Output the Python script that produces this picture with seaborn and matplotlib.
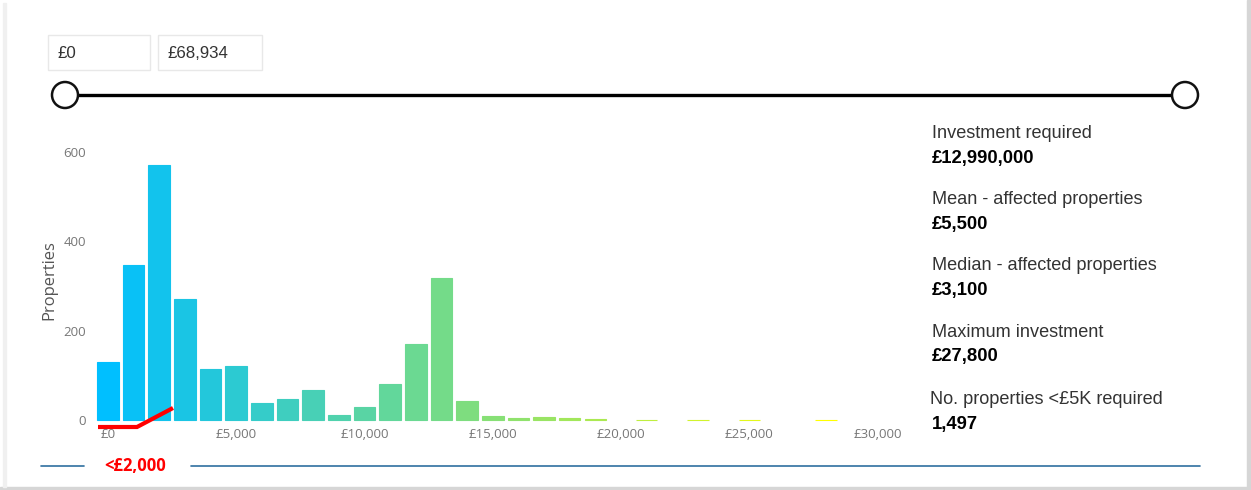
import numpy as np
import pandas as pd
import seaborn as sns
import matplotlib.pyplot as plt
from matplotlib.colors import LinearSegmentedColormap
from matplotlib.lines import Line2D
from matplotlib.patches import Rectangle, Circle
from matplotlib.ticker import FuncFormatter

# Histogram data (bin centres in £, number of properties)
bin_centers = [0, 1000, 2000, 3000, 4000, 5000, 6000, 7000, 8000, 9000,
               10000, 11000, 12000, 13000, 14000, 15000, 16000, 17000, 18000, 19000,
               20000, 21000, 22000, 23000, 24000, 25000, 26000, 27000, 28000]
counts = [129, 346, 570, 270, 114, 120, 38, 48, 67, 11,
          28, 81, 171, 317, 42, 10, 5, 7, 4, 2,
          0, 1, 0, 1, 0, 1, 0, 0, 1]

x_ticks = [0, 5000, 10000, 15000, 20000, 25000, 30000]
y_ticks = [0, 200, 400, 600]

range_low = "£0"
range_high = "£68,934"

kpi_labels = ["Investment required", "Mean - affected properties",
              "Median - affected properties", "Maximum investment",
              "No. properties <£5K required"]
kpi_values = ["£12,990,000", "£5,500", "£3,100", "£27,800", "1,497"]

band_label = "<£2,000"

df = pd.DataFrame({'investment': bin_centers, 'properties': counts})

sns.set_theme(style="white")
plt.rcParams['font.family'] = ['Open Sans', 'DejaVu Sans']

W, H = 1251, 490
fig = plt.figure(figsize=(W / 100, H / 100), dpi=100)
fig.patch.set_facecolor('white')

def fx(px):
    return px / W

def fy(py):
    return 1 - py / H

# card frame / shadow
fig.patches.append(Rectangle((fx(1247), 0), fx(4), 1, transform=fig.transFigure,
                             color='#d6d6d6', zorder=0))
fig.patches.append(Rectangle((0, 0), 1, fy(487), transform=fig.transFigure,
                             color='#d6d6d6', zorder=0))
fig.patches.append(Rectangle((fx(3), fy(487)), fx(3), fy(3) - fy(487),
                             transform=fig.transFigure, color='#f0f0f0', zorder=0))

# histogram axes
ax = fig.add_axes([fx(90), fy(420), fx(905) - fx(90), fy(140) - fy(420)])
ax.set_facecolor('none')

sns.histplot(data=df, x='investment', weights='properties', binwidth=1000,
             binrange=(-500, 28500), shrink=0.84, ax=ax, element='bars')

cmap = LinearSegmentedColormap.from_list(
    'pbi', [(0.0, '#00bfff'), (0.5, '#7ddd7f'), (1.0, '#ffff00')])
for p in ax.patches:
    if p.get_height() <= 0:
        p.set_visible(False)
        continue
    c = p.get_x() + p.get_width() / 2
    col = cmap(np.clip(c / 28000, 0, 1))
    p.set_facecolor(col)
    p.set_edgecolor(col)
    p.set_linewidth(0.8)
    p.set_alpha(1)
    p.set_clip_on(False)

ax.set_xlim(-700, 31070)
ax.set_ylim(0, 626)
ax.set_xticks(x_ticks)
ax.set_yticks(y_ticks)
ax.xaxis.set_major_formatter(FuncFormatter(lambda v, _: f"£{int(v):,}"))
ax.tick_params(axis='both', length=0, labelsize=9.5, labelcolor='#777777')
ax.tick_params(axis='x', pad=6)
ax.tick_params(axis='y', pad=3)
ax.set_xlabel('')
ax.set_ylabel('Properties', fontsize=12, color='#555555', labelpad=4)
for s in ax.spines.values():
    s.set_visible(False)

# range boxes
for x0, x1, txt in [(48, 150, range_low), (158, 262, range_high)]:
    fig.patches.append(Rectangle((fx(x0), fy(70)), fx(x1) - fx(x0), fy(35) - fy(70),
                                 transform=fig.transFigure, facecolor='white',
                                 edgecolor='#e8e8e8', linewidth=1))
    fig.text(fx(x0 + 9), fy(53), txt, fontsize=12.2, color='#333333',
             va='center', ha='left', family=['Liberation Sans', 'DejaVu Sans'])

# slider
fig.add_artist(Line2D([fx(65), fx(1185)], [fy(95), fy(95)], color='black',
                      linewidth=2.4, transform=fig.transFigure))
for cx in (65, 1185):
    fig.add_artist(Circle((cx, H - 95), 13, transform=None, facecolor='white',
                          edgecolor='#111111', linewidth=1.8, zorder=5))

# KPI text
label_y = [133, 200, 266, 332, 399]
for i, (lab, val) in enumerate(zip(kpi_labels, kpi_values)):
    x0 = 930 if i == 4 else 932
    fig.text(fx(x0), fy(label_y[i]), lab, fontsize=13.1, color='#333333',
             va='center', ha='left', family=['Liberation Sans', 'DejaVu Sans'])
    fig.text(fx(932), fy(label_y[i] + 25), val, fontsize=13.3, color='black',
             fontweight='bold', va='center', ha='left',
             family=['Liberation Sans', 'DejaVu Sans'])

# red band annotation
fig.add_artist(Line2D([fx(98), fx(137), fx(173)], [fy(427), fy(427), fy(408)],
                      color='red', linewidth=3, transform=fig.transFigure,
                      solid_capstyle='butt', solid_joinstyle='miter'))
fig.text(fx(135), fy(466), band_label, fontsize=12, color='red', fontweight='bold',
         ha='center', va='center')

# bottom rule
for a, b in [(41, 84), (191, 1200)]:
    fig.add_artist(Line2D([fx(a), fx(b)], [fy(465.5), fy(465.5)], color='#2f6f9f',
                          linewidth=1.2, transform=fig.transFigure))

fig.savefig('out.png', dpi=100)
